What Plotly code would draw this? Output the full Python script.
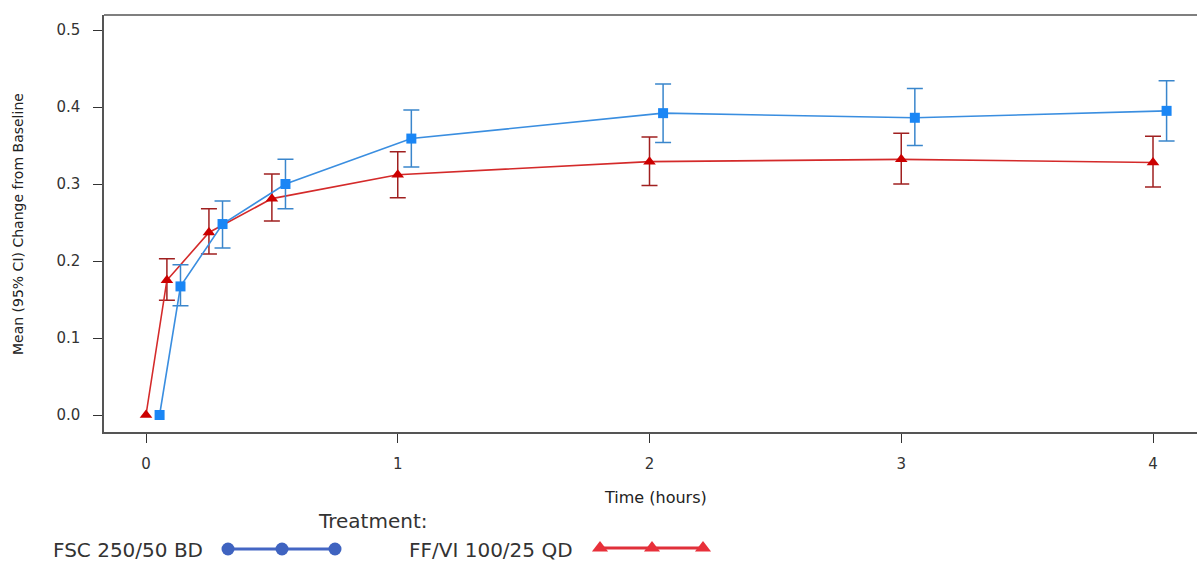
import plotly.graph_objects as go

# ---- data ----
times = [0, 0.083, 0.25, 0.5, 1, 2, 3, 4]
fsc_dodge = 0.054  # horizontal offset applied to the FSC series (dodge)

fsc_mean = [0.0, 0.167, 0.248, 0.300, 0.359, 0.392, 0.386, 0.395]
fsc_lo   = [None, 0.142, 0.217, 0.268, 0.322, 0.354, 0.350, 0.356]
fsc_hi   = [None, 0.195, 0.278, 0.332, 0.396, 0.430, 0.424, 0.434]

ffvi_mean = [0.0, 0.175, 0.237, 0.281, 0.312, 0.329, 0.332, 0.328]
ffvi_lo   = [None, 0.149, 0.209, 0.252, 0.282, 0.298, 0.300, 0.296]
ffvi_hi   = [None, 0.203, 0.268, 0.313, 0.342, 0.361, 0.366, 0.362]

x_ticks = [0, 1, 2, 3, 4]
y_ticks = [0.0, 0.1, 0.2, 0.3, 0.4, 0.5]
y_ticklabels = ["0.0", "0.1", "0.2", "0.3", "0.4", "0.5"]

series_names = ["FSC 250/50 BD", "FF/VI 100/25 QD"]

W, H = 1197, 563
FONT = "DejaVu Sans"

fsc_x = [t + fsc_dodge for t in times]

fig = go.Figure()


def add_series(x, mean, lo, hi, name, line_col, mk_col, err_col, symbol, size):
    # error bars only where a CI exists
    idx = [i for i in range(len(mean)) if lo[i] is not None]
    fig.add_trace(go.Scatter(
        x=[x[i] for i in idx], y=[mean[i] for i in idx], mode="markers",
        marker=dict(size=1, opacity=0),
        error_y=dict(type="data", symmetric=False,
                     array=[hi[i] - mean[i] for i in idx],
                     arrayminus=[mean[i] - lo[i] for i in idx],
                     color=err_col, thickness=1.5, width=8),
        showlegend=False, hoverinfo="skip",
    ))
    fig.add_trace(go.Scatter(
        x=x, y=mean, mode="lines+markers", name=name,
        line=dict(color=line_col, width=1.6),
        marker=dict(symbol=symbol, size=size, color=mk_col),
        showlegend=False,
    ))


add_series(times, ffvi_mean, ffvi_lo, ffvi_hi, series_names[1],
           "#d42a2a", "#cc0000", "#a02020", "triangle-up", 11)
add_series(fsc_x, fsc_mean, fsc_lo, fsc_hi, series_names[0],
           "#3a8ee0", "#1a86f5", "#3a86cc", "square", 10)

# ---- custom legend (hidden full-page axis in pixel units) ----
fig.add_trace(go.Scatter(
    x=[228, 282, 335], y=[549, 549, 549], mode="lines+markers",
    line=dict(color="#4466c4", width=3),
    marker=dict(symbol="circle", size=13, color="#3f63c0"),
    xaxis="x2", yaxis="y2", showlegend=False, hoverinfo="skip",
))
fig.add_trace(go.Scatter(
    x=[600, 652, 703], y=[548, 548, 548], mode="lines+markers",
    line=dict(color="#e0303a", width=3),
    marker=dict(symbol="triangle-up", size=14, color="#e8303a"),
    xaxis="x2", yaxis="y2", showlegend=False, hoverinfo="skip",
))

px_per_h = 251.75
x0_px = 146
left_px, right_px = 104, W
xr = [(left_px - x0_px) / px_per_h, (right_px - x0_px) / px_per_h]
px_per_unit = 770
y0_px = 415
top_px, bot_px = 15, 432
yr = [(y0_px - bot_px) / px_per_unit, (y0_px - top_px) / px_per_unit]

axis_col = "#555555"

fig.update_layout(
    width=W, height=H,
    margin=dict(l=0, r=0, t=0, b=0),
    paper_bgcolor="white", plot_bgcolor="rgba(0,0,0,0)",
    font=dict(family=FONT, color="#333333"),
    xaxis=dict(
        domain=[left_px / W, 1], range=xr, tickvals=x_ticks,
        ticktext=[str(v) for v in x_ticks],
        showgrid=False, zeroline=False, showline=True, linecolor=axis_col,
        linewidth=1.5, ticks="outside", ticklen=9, tickcolor="#333333",
        tickfont=dict(size=15, family=FONT, color="#333333"),
        ticklabelstandoff=8, anchor="y",
    ),
    yaxis=dict(
        domain=[(H - bot_px) / H, (H - top_px) / H], range=yr,
        tickvals=y_ticks, ticktext=y_ticklabels,
        showgrid=False, zeroline=False, showline=True, linecolor=axis_col,
        linewidth=1.5, ticks="outside", ticklen=9, tickcolor="#333333",
        tickfont=dict(size=15, family=FONT, color="#333333"),
        ticklabelstandoff=10, anchor="x",
    ),
    xaxis2=dict(domain=[0, 1], range=[0, W], visible=False, anchor="y2"),
    yaxis2=dict(domain=[0, 1], range=[H, 0], visible=False, anchor="x2"),
    shapes=[dict(type="line", xref="x domain", yref="y domain",
                 x0=0, x1=1, y0=1, y1=1,
                 line=dict(color=axis_col, width=1.5))],
    annotations=[
        dict(text="Mean (95% CI) Change from Baseline", x=18 / W, y=1 - 224 / H,
             xref="paper", yref="paper", showarrow=False, textangle=-90,
             font=dict(size=14, family=FONT, color="#222222"),
             xanchor="center", yanchor="middle"),
        dict(text="Time (hours)", x=655 / W, y=1 - 497 / H,
             xref="paper", yref="paper", showarrow=False,
             font=dict(size=16, family=FONT, color="#222222"),
             xanchor="center", yanchor="middle"),
        dict(text="Treatment:", x=373 / W, y=1 - 521 / H,
             xref="paper", yref="paper", showarrow=False,
             font=dict(size=20, family=FONT, color="#333333"),
             xanchor="center", yanchor="middle"),
        dict(text=series_names[0], x=205 / W, y=1 - 550 / H,
             xref="paper", yref="paper", showarrow=False,
             font=dict(size=20, family=FONT, color="#333333"),
             xanchor="right", yanchor="middle"),
        dict(text=series_names[1], x=575 / W, y=1 - 550 / H,
             xref="paper", yref="paper", showarrow=False,
             font=dict(size=20, family=FONT, color="#333333"),
             xanchor="right", yanchor="middle"),
    ],
)

fig.write_html("out.html")
